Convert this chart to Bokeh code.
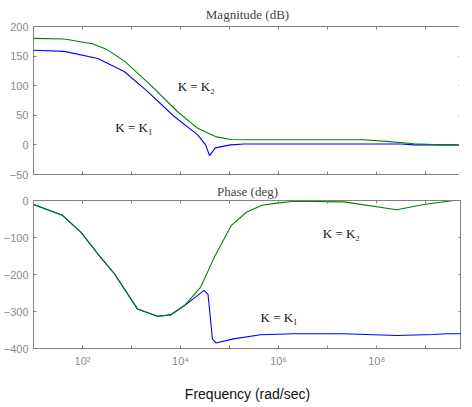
from bokeh.plotting import figure
from bokeh.models import Range1d, FixedTicker, LinearAxis, LogAxis, Label, CustomJSTickFormatter
from bokeh.layouts import column
from bokeh.embed import file_html
from bokeh.resources import INLINE

# ---- data (log10 of frequency in rad/sec) ----
mag_k2_logw = [1.0, 1.63, 2.2, 2.5, 2.85, 3.39, 3.94, 4.35, 4.71, 5.02, 5.5, 7.73, 8.2, 8.76, 9.31, 10.0]
mag_k2_db   = [180, 179, 171, 161, 142, 101, 56, 28, 14, 9, 8.6, 8.6, 6, 2, 0, 0]
mag_k1_logw = [1.0, 1.63, 2.31, 2.85, 3.33, 3.87, 4.35, 4.51, 4.59, 4.71, 5.02, 5.3, 8.5, 8.76, 10.0]
mag_k1_db   = [160, 158, 146, 124, 90, 48, 17, 0, -18, -5, 0, 1.5, 1.5, 0, 0]

ph_k2_logw = [1.0, 1.59, 1.97, 2.31, 2.65, 3.12, 3.53, 3.80, 4.08, 4.41, 4.69, 5.03, 5.35, 5.66, 5.97,
              6.31, 7.33, 8.41, 8.96, 9.57, 10.0]
ph_k2_deg  = [-11, -40, -86, -144, -198, -293, -313, -309, -284, -234, -153, -68, -31, -13, -7,
              -2, -3.6, -25, -11, 0, 0]
ph_k1_logw = [1.0, 1.59, 1.97, 2.31, 2.65, 3.12, 3.53, 3.80, 4.08, 4.48, 4.56, 4.65, 4.72, 5.08, 5.63,
              6.31, 7.33, 8.41, 9.16, 9.43, 10.0]
ph_k1_deg  = [-11, -40, -86, -144, -198, -293, -313, -309, -284, -243, -254, -374, -385, -374, -363,
              -360, -360, -365, -362, -360, -360]

mag_yticks = [-50, 0, 50, 100, 150, 200]
ph_yticks = [-400, -300, -200, -100, 0]
decade_exps = list(range(1, 11))

GRAY = "#808080"
LBL = "#8a8a8a"
BLUE = "#0000ff"
GREEN = "#008000"
SERIF = "Liberation Serif"
SANS = "Liberation Sans"

xr = Range1d(10.0, 10 ** 9.73)
decade_ticks = [10.0 ** k for k in decade_exps]

fmt = CustomJSTickFormatter(code="""
const e = Math.round(Math.log10(tick));
const sup = {2: "\u00b2", 4: "\u2074", 6: "\u2076", 8: "\u2078"};
return (e % 2 == 0 && sup[e] !== undefined) ? "10" + sup[e] : "";
""")


def hide_labels(ax):
    ax.formatter = CustomJSTickFormatter(code='return " ";')
    ax.major_label_text_font_size = "1px"
    ax.major_label_text_color = None
    ax.major_label_standoff = 0


def make_fig(title, yr, yticks, show_xlabels, title_standoff, mbb):
    p = figure(x_axis_type="log", x_range=xr, y_range=yr,
               frame_width=428, frame_height=148,
               min_border_left=31, min_border_right=0, min_border_top=0,
               min_border_bottom=mbb,
               output_backend="svg", toolbar_location=None, title=title)
    p.title.text_font = SERIF
    p.title.text_font_size = "13px"
    p.title.text_font_style = "normal"
    p.title.align = "center"
    p.title.standoff = title_standoff
    p.grid.visible = False
    p.outline_line_color = GRAY
    p.background_fill_color = "white"
    p.border_fill_color = "white"

    for ax in p.yaxis:
        ax.ticker = FixedTicker(ticks=yticks)
        ax.axis_line_color = GRAY
        ax.major_tick_line_color = GRAY
        ax.major_tick_in = 3
        ax.major_tick_out = 0
        ax.minor_tick_line_color = None
        ax.major_label_text_font = SANS
        ax.major_label_text_font_size = "11px"
        ax.major_label_text_color = LBL
        ax.major_label_standoff = 5

    for ax in p.xaxis:
        ax.ticker = FixedTicker(ticks=decade_ticks)
        ax.axis_line_color = GRAY
        ax.major_tick_line_color = GRAY
        ax.major_tick_in = 3
        ax.major_tick_out = 0
        ax.minor_tick_line_color = None
        if show_xlabels:
            ax.formatter = fmt
            ax.major_label_text_font = SANS
            ax.major_label_text_font_size = "11px"
            ax.major_label_text_color = LBL
            ax.major_label_standoff = 6
            ax.axis_label = "Frequency (rad/sec)"
            ax.axis_label_text_font = SANS
            ax.axis_label_text_font_size = "14px"
            ax.axis_label_text_font_style = "normal"
            ax.axis_label_text_color = "#111111"
            ax.axis_label_standoff = 16
        else:
            hide_labels(ax)

    ra = LinearAxis(ticker=FixedTicker(ticks=yticks), axis_line_color=GRAY,
                    major_tick_line_color=GRAY, major_tick_in=3, major_tick_out=0,
                    minor_tick_line_color=None)
    hide_labels(ra)
    p.add_layout(ra, "right")
    ta = LogAxis(ticker=FixedTicker(ticks=decade_ticks), axis_line_color=GRAY,
                 major_tick_line_color=GRAY, major_tick_in=3, major_tick_out=0,
                 minor_tick_line_color=None)
    hide_labels(ta)
    p.add_layout(ta, "above")
    return p


p1 = make_fig("Magnitude (dB)", Range1d(-50, 200), mag_yticks, False, 9, 6)
p1.line([10 ** v for v in mag_k1_logw], mag_k1_db, line_color=BLUE, line_width=1.1)
p1.line([10 ** v for v in mag_k2_logw], mag_k2_db, line_color=GREEN, line_width=1.1)
p1.add_layout(Label(x=10 ** 3.94, y=98.6, text="K = K\u2082", text_font=SERIF,
                    text_font_size="13px", text_baseline="middle", text_color="#111111"))
p1.add_layout(Label(x=10 ** 2.67, y=29.4, text="K = K\u2081", text_font=SERIF,
                    text_font_size="13px", text_baseline="middle", text_color="#111111"))

p2 = make_fig("Phase (deg)", Range1d(-400, 0), ph_yticks, True, 3, 0)
p2.line([10 ** v for v in ph_k1_logw], ph_k1_deg, line_color=BLUE, line_width=1.1)
p2.line([10 ** v for v in ph_k2_logw], ph_k2_deg, line_color=GREEN, line_width=1.1)
p2.add_layout(Label(x=10 ** 6.90, y=-89, text="K = K\u2082", text_font=SERIF,
                    text_font_size="13px", text_baseline="middle", text_color="#111111"))
p2.add_layout(Label(x=10 ** 5.63, y=-316, text="K = K\u2081", text_font=SERIF,
                    text_font_size="13px", text_baseline="middle", text_color="#111111"))

layout = column(p1, p2, spacing=0)
open("out.html", "w").write(file_html(layout, INLINE))
